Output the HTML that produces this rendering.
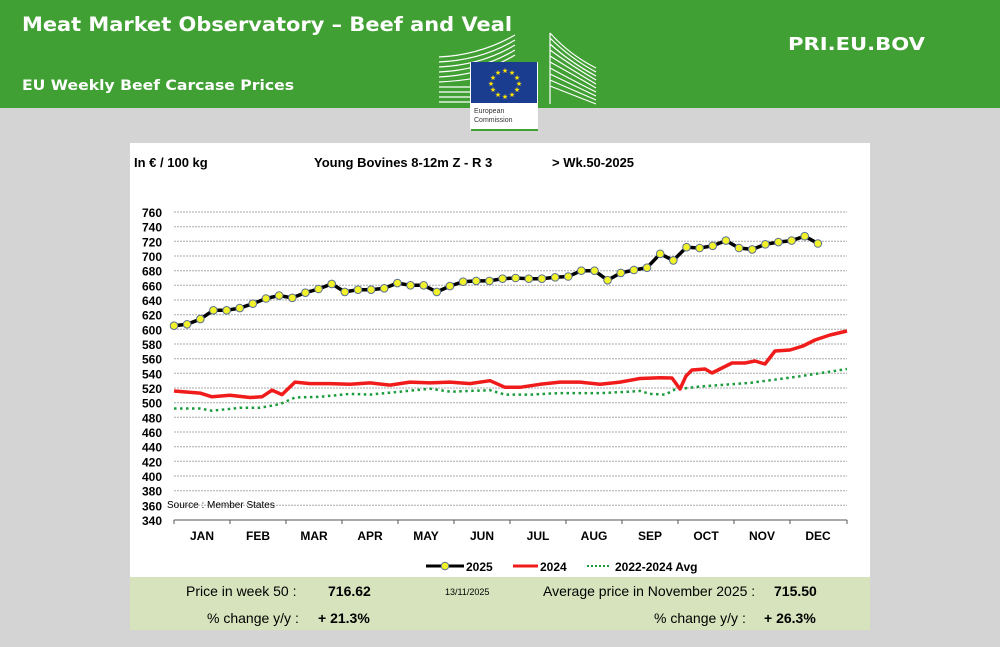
<!DOCTYPE html>
<html><head><meta charset="utf-8"><style>
html,body{margin:0;padding:0;width:1000px;height:647px;overflow:hidden;background:#d4d4d4;font-family:"Liberation Sans",Arial,sans-serif}
</style></head><body>
<svg width="1000" height="647" xmlns="http://www.w3.org/2000/svg" font-family="Liberation Sans, Arial, sans-serif">
<rect x="0" y="0" width="1000" height="108" fill="#41a034"/>
<text x="22" y="31" font-size="19.5" font-weight="bold" fill="#fff" font-family="DejaVu Sans, sans-serif" textLength="490" lengthAdjust="spacingAndGlyphs">Meat Market Observatory – Beef and Veal</text>
<text x="22" y="90" font-size="14" font-weight="bold" fill="#fff" font-family="DejaVu Sans, sans-serif" textLength="272" lengthAdjust="spacingAndGlyphs">EU Weekly Beef Carcase Prices</text>
<text x="788" y="50" font-size="18" font-weight="bold" fill="#fff" font-family="DejaVu Sans, sans-serif" textLength="137" lengthAdjust="spacingAndGlyphs">PRI.EU.BOV</text>
<g stroke="#fff" stroke-width="1.2" fill="none">
<path d="M439 57 Q480 55 515 35 M439 62 Q482 60 515 40 M439 67 Q482 65 515 45 M439 72 Q482 70 515 50 M439 77 Q482 75 515 55 M439 82 Q480 80 505 70 M439 87 L470 87 M439 92 L470 92 M439 97 L470 97 M439 102 L470 102"/>
<path d="M550 33 Q570 55 596 68 M550 38 Q570 58 596 72 M550 44 Q570 62 596 76 M550 50 Q572 66 596 80 M550 56 Q572 70 596 84 M550 62 Q572 74 596 88 M550 68 Q572 80 596 92 M550 74 L596 96 M550 80 L596 100 M550 86 L596 104 M550 33 L550 104"/>
</g>
<rect x="470" y="62" width="68" height="68" fill="#fff"/>
<rect x="471" y="62" width="66" height="41" fill="#1a3d8f"/>
<g fill="#ffe400" font-size="7" text-anchor="middle">
<text x="505" y="73">★</text><text x="512" y="75">★</text><text x="517" y="80">★</text><text x="519" y="86">★</text><text x="517" y="92">★</text><text x="512" y="97">★</text><text x="505" y="99">★</text><text x="498" y="97">★</text><text x="493" y="92">★</text><text x="491" y="86">★</text><text x="493" y="80">★</text><text x="498" y="75">★</text>
</g>
<text x="474" y="113" font-size="7" fill="#333">European</text>
<text x="474" y="122" font-size="7" fill="#333">Commission</text>
<rect x="471" y="129" width="67" height="2" fill="#41a034"/>

<rect x="130" y="143" width="740" height="487" fill="#fff"/>
<rect x="130" y="577" width="740" height="53" fill="#d6e3bc"/>
<text x="134" y="167" font-size="13" font-weight="bold">In € / 100 kg</text>
<text x="314" y="167" font-size="13" font-weight="bold">Young Bovines 8-12m Z - R 3</text>
<text x="552" y="167" font-size="13" font-weight="bold">&gt; Wk.50-2025</text>

<g stroke="#a8a8a8" stroke-width="1" stroke-dasharray="2,1">
<line x1="174" x2="847" y1="212" y2="212"/><line x1="174" x2="847" y1="226.7" y2="226.7"/><line x1="174" x2="847" y1="241.3" y2="241.3"/><line x1="174" x2="847" y1="256" y2="256"/><line x1="174" x2="847" y1="270.7" y2="270.7"/><line x1="174" x2="847" y1="285.3" y2="285.3"/><line x1="174" x2="847" y1="300" y2="300"/><line x1="174" x2="847" y1="314.7" y2="314.7"/><line x1="174" x2="847" y1="329.3" y2="329.3"/><line x1="174" x2="847" y1="344" y2="344"/><line x1="174" x2="847" y1="358.7" y2="358.7"/><line x1="174" x2="847" y1="373.3" y2="373.3"/><line x1="174" x2="847" y1="388" y2="388"/><line x1="174" x2="847" y1="402.7" y2="402.7"/><line x1="174" x2="847" y1="417.3" y2="417.3"/><line x1="174" x2="847" y1="432" y2="432"/><line x1="174" x2="847" y1="446.7" y2="446.7"/><line x1="174" x2="847" y1="461.3" y2="461.3"/><line x1="174" x2="847" y1="476" y2="476"/><line x1="174" x2="847" y1="490.7" y2="490.7"/><line x1="174" x2="847" y1="505.3" y2="505.3"/>
</g>
<line x1="174" x2="847" y1="520" y2="520" stroke="#555" stroke-width="1"/>
<g stroke="#555"><line x1="174" x2="174" y1="520" y2="524"/><line x1="230" x2="230" y1="520" y2="524"/><line x1="286" x2="286" y1="520" y2="524"/><line x1="342" x2="342" y1="520" y2="524"/><line x1="398" x2="398" y1="520" y2="524"/><line x1="454" x2="454" y1="520" y2="524"/><line x1="510" x2="510" y1="520" y2="524"/><line x1="566" x2="566" y1="520" y2="524"/><line x1="622" x2="622" y1="520" y2="524"/><line x1="678" x2="678" y1="520" y2="524"/><line x1="734" x2="734" y1="520" y2="524"/><line x1="790" x2="790" y1="520" y2="524"/><line x1="847" x2="847" y1="520" y2="524"/></g>
<g font-size="12" font-weight="bold" text-anchor="end">
<text x="162" y="217">760</text><text x="162" y="231.7">740</text><text x="162" y="246.3">720</text><text x="162" y="261">700</text><text x="162" y="275.7">680</text><text x="162" y="290.3">660</text><text x="162" y="305">640</text><text x="162" y="319.7">620</text><text x="162" y="334.3">600</text><text x="162" y="349">580</text><text x="162" y="363.7">560</text><text x="162" y="378.3">540</text><text x="162" y="393">520</text><text x="162" y="407.7">500</text><text x="162" y="422.3">480</text><text x="162" y="437">460</text><text x="162" y="451.7">440</text><text x="162" y="466.3">420</text><text x="162" y="481">400</text><text x="162" y="495.7">380</text><text x="162" y="510.3">360</text><text x="162" y="525">340</text>
</g>
<text x="167" y="508" font-size="10">Source : Member  States</text>
<g font-size="12" font-weight="bold" text-anchor="middle">
<text x="202" y="540">JAN</text><text x="258" y="540">FEB</text><text x="314" y="540">MAR</text><text x="370" y="540">APR</text><text x="426" y="540">MAY</text><text x="482" y="540">JUN</text><text x="538" y="540">JUL</text><text x="594" y="540">AUG</text><text x="650" y="540">SEP</text><text x="706" y="540">OCT</text><text x="762" y="540">NOV</text><text x="818" y="540">DEC</text>
</g>

<polyline fill="none" stroke="#1a9b3c" stroke-width="2.5" stroke-dasharray="2.5,3.5" points="174,408.5 200,408.5 212,410.7 240,407.8 260,407.8 280,404.1 295,397.5 320,396.8 350,393.9 370,394.6 400,391.7 430,388.7 450,391.7 490,390.2 505,394.6 530,394.6 560,393.1 600,393.1 630,391.7 640,390.9 650,393.9 665,394.6 675,389.5 700,386.5 750,382.9 800,376.3 847,369"/>
<polyline fill="none" stroke="#f01c1c" stroke-width="3.5" stroke-linejoin="round" points="174,391 200,393.1 212,396.8 230,395.3 250,397.5 262,396.8 272,390.2 282,394.6 295,382.1 310,383.6 330,383.6 350,384.3 370,382.9 390,385.1 410,382.1 430,382.9 450,382.1 470,383.6 490,380.7 505,387.3 520,387.3 540,384.3 560,382.1 580,382.1 600,384.3 620,382.1 640,378.5 660,377.7 672,378 680,389 686,376 692,370 705,369 712,373 722,368 732,363 745,363 755,361 765,364 775,351 790,350 803,346 815,340 830,335 847,331"/>
<polyline fill="none" stroke="#000" stroke-width="3.5" stroke-linejoin="round" points="174,325.7 187.1,324.3 200.3,319.1 213.4,310.3 226.6,310.3 239.7,308.1 252.8,303.7 266,298.5 279.1,295.6 292.3,297.8 305.4,292.7 318.5,289 331.7,283.9 344.8,291.9 358,289.7 371.1,289.7 384.2,288.3 397.4,283.1 410.5,285.3 423.7,285.3 436.8,291.9 449.9,286.1 463.1,281.7 476.2,280.9 489.4,280.9 502.5,278.7 515.6,278 528.8,278.7 541.9,278.7 555.1,277.3 568.2,276.5 581.3,270.7 594.5,270.7 607.6,280.2 620.8,272.9 633.9,270 647,267.7 660.2,253.8 673.3,260.4 686.5,247.2 699.6,248 712.7,245.8 725.9,240.6 739,248 752.2,249.4 765.3,244.3 778.4,242.1 791.6,240.6 804.7,236.2 817.9,243.5"/>
<g fill="#f2f22a" stroke="#5a7090" stroke-width="1">
<circle cx="174" cy="325.7" r="3.8"/><circle cx="187.1" cy="324.3" r="3.8"/><circle cx="200.3" cy="319.1" r="3.8"/><circle cx="213.4" cy="310.3" r="3.8"/><circle cx="226.6" cy="310.3" r="3.8"/><circle cx="239.7" cy="308.1" r="3.8"/><circle cx="252.8" cy="303.7" r="3.8"/><circle cx="266" cy="298.5" r="3.8"/><circle cx="279.1" cy="295.6" r="3.8"/><circle cx="292.3" cy="297.8" r="3.8"/><circle cx="305.4" cy="292.7" r="3.8"/><circle cx="318.5" cy="289" r="3.8"/><circle cx="331.7" cy="283.9" r="3.8"/><circle cx="344.8" cy="291.9" r="3.8"/><circle cx="358" cy="289.7" r="3.8"/><circle cx="371.1" cy="289.7" r="3.8"/><circle cx="384.2" cy="288.3" r="3.8"/><circle cx="397.4" cy="283.1" r="3.8"/><circle cx="410.5" cy="285.3" r="3.8"/><circle cx="423.7" cy="285.3" r="3.8"/><circle cx="436.8" cy="291.9" r="3.8"/><circle cx="449.9" cy="286.1" r="3.8"/><circle cx="463.1" cy="281.7" r="3.8"/><circle cx="476.2" cy="280.9" r="3.8"/><circle cx="489.4" cy="280.9" r="3.8"/><circle cx="502.5" cy="278.7" r="3.8"/><circle cx="515.6" cy="278" r="3.8"/><circle cx="528.8" cy="278.7" r="3.8"/><circle cx="541.9" cy="278.7" r="3.8"/><circle cx="555.1" cy="277.3" r="3.8"/><circle cx="568.2" cy="276.5" r="3.8"/><circle cx="581.3" cy="270.7" r="3.8"/><circle cx="594.5" cy="270.7" r="3.8"/><circle cx="607.6" cy="280.2" r="3.8"/><circle cx="620.8" cy="272.9" r="3.8"/><circle cx="633.9" cy="270" r="3.8"/><circle cx="647" cy="267.7" r="3.8"/><circle cx="660.2" cy="253.8" r="3.8"/><circle cx="673.3" cy="260.4" r="3.8"/><circle cx="686.5" cy="247.2" r="3.8"/><circle cx="699.6" cy="248" r="3.8"/><circle cx="712.7" cy="245.8" r="3.8"/><circle cx="725.9" cy="240.6" r="3.8"/><circle cx="739" cy="248" r="3.8"/><circle cx="752.2" cy="249.4" r="3.8"/><circle cx="765.3" cy="244.3" r="3.8"/><circle cx="778.4" cy="242.1" r="3.8"/><circle cx="791.6" cy="240.6" r="3.8"/><circle cx="804.7" cy="236.2" r="3.8"/><circle cx="817.9" cy="243.5" r="3.8"/>
</g>

<line x1="426" x2="464" y1="566" y2="566" stroke="#000" stroke-width="3"/>
<circle cx="445" cy="566" r="3.8" fill="#f2f22a" stroke="#5a7090"/>
<text x="466" y="571" font-size="12" font-weight="bold">2025</text>
<line x1="513" x2="538" y1="566" y2="566" stroke="#f01c1c" stroke-width="3"/>
<text x="540" y="571" font-size="12" font-weight="bold">2024</text>
<line x1="587" x2="610" y1="566" y2="566" stroke="#1a9b3c" stroke-width="2" stroke-dasharray="2,2"/>
<text x="615" y="571" font-size="12" font-weight="bold">2022-2024 Avg</text>

<g font-size="14">
<text x="186" y="596">Price in week 50 :</text>
<text x="207" y="623">% change y/y :</text>
<text x="543" y="596">Average price in November 2025 :</text>
<text x="654" y="623">% change y/y :</text>
</g>
<g font-size="14" font-weight="bold">
<text x="328" y="596">716.62</text>
<text x="318" y="623">+ 21.3%</text>
<text x="774" y="596">715.50</text>
<text x="764" y="623">+ 26.3%</text>
</g>
<text x="445" y="595" font-size="9">13/11/2025</text>
</svg>
</body></html>
